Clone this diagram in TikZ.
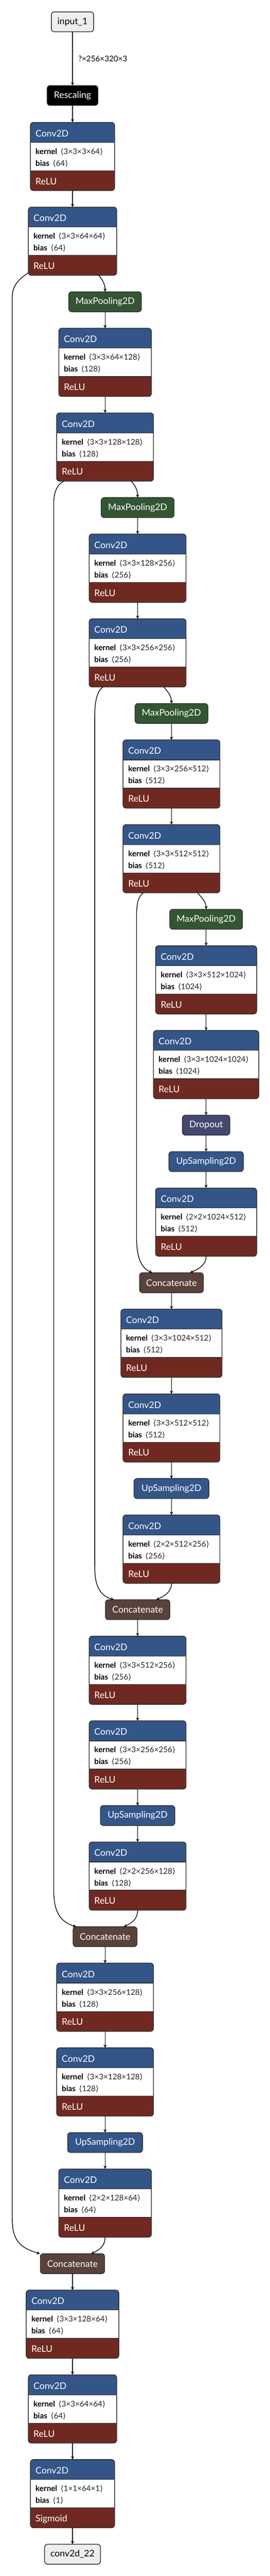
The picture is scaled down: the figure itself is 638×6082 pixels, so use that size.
\documentclass[tikz,border=0pt]{standalone}
\usepackage{fontspec}
\setmainfont{Lato}
\newfontfamily\brkfont{DejaVu Sans}
\usetikzlibrary{arrows.meta,calc}
\definecolor{layerc}{HTML}{335588}
\definecolor{actc}{HTML}{702921}
\definecolor{poolc}{HTML}{335533}
\definecolor{dropc}{HTML}{454770}
\definecolor{tensorc}{HTML}{59423B}
\definecolor{bordc}{HTML}{333333}
\definecolor{iofill}{HTML}{EEEEEE}
\definecolor{valc}{HTML}{222222}
\newcommand\hdrfont{\fontsize{21.5}{25}\selectfont}
\newcommand\attrfont{\fontsize{18.5}{22}\selectfont}
\newcommand\lbr{{\brkfont ⟨}}
\newcommand\rbr{{\brkfont ⟩}}
\tikzset{
  frame/.style={draw=bordc, line width=1.8pt, rounded corners=7pt, inner sep=0pt, outer sep=0pt},
  sbox/.style={frame, minimum height=47pt, text=white, font=\hdrfont},
  iobox/.style={sbox, fill=iofill, text=black},
  htext/.style={inner sep=0pt, text=white, font=\hdrfont},
  atext/.style={inner sep=0pt, text=black, font=\attrfont},
  sepline/.style={draw=bordc, line width=1.6pt},
  arr/.style={draw=black, line width=1.6pt, -{Stealth[length=8pt,width=7.5pt,inset=3pt]}},
  lbl/.style={inner sep=0pt, font=\attrfont, text=black}
}
\newcommand\convblock[7]{%
  \pgfmathsetmacro\cbL{#2-#4/2}%
  \pgfmathsetmacro\cbR{#2+#4/2}%
  \begin{scope}
    \clip[rounded corners=7pt] (\cbL,#3) rectangle (\cbR,#3+161);
    \fill[layerc] (\cbL,#3) rectangle (\cbR,#3+47);
    \fill[white] (\cbL,#3+47) rectangle (\cbR,#3+114);
    \fill[actc] (\cbL,#3+114) rectangle (\cbR,#3+161);
  \end{scope}
  \draw[sepline] (\cbL,#3+47) -- (\cbR,#3+47);
  \draw[sepline] (\cbL,#3+114) -- (\cbR,#3+114);
  \node[frame, minimum width=#4, minimum height=161, anchor=north] (#1) at (#2,#3) {};
  \node[htext, anchor=base west] (#1-h) at (\cbL+12,#3+33.5) {Conv2D};
  \node[atext, anchor=base west] (#1-k) at (\cbL+12,#3+75) {\textbf{kernel}\hspace{8pt}{\color{valc}\lbr#5\rbr}};
  \node[atext, anchor=base west] (#1-b) at (\cbL+12,#3+103) {\textbf{bias}\hspace{8pt}{\color{valc}\lbr#6\rbr}};
  \node[htext, anchor=base west] (#1-a) at (\cbL+12,#3+146.5) {#7};
}
\begin{document}
\begin{tikzpicture}[x=1pt,y=-1pt]
\useasboundingbox (0,0) rectangle (638,6082);
\fill[white] (0,0) rectangle (638,6082);

% ---- nodes ----
\node[iobox, minimum width=100, anchor=north] (in) at (171.5,28) {input\_1};
\node[sbox, fill=black, minimum width=120, anchor=north] (resc) at (171.5,202) {Rescaling};

\convblock{C1}{171.5}{289}{199}{3×3×3×64}{64}{ReLU}
\convblock{C2}{171.5}{489}{209}{3×3×64×64}{64}{ReLU}
\node[sbox, fill=poolc, minimum width=172, anchor=north] (MP1) at (248.5,689) {MaxPooling2D};
\convblock{C3}{248.5}{775}{219}{3×3×64×128}{128}{ReLU}
\convblock{C4}{248.5}{975}{229}{3×3×128×128}{128}{ReLU}
\node[sbox, fill=poolc, minimum width=172, anchor=north] (MP2) at (325.5,1175) {MaxPooling2D};
\convblock{C5}{325.5}{1261}{229}{3×3×128×256}{256}{ReLU}
\convblock{C6}{325.5}{1461}{229}{3×3×256×256}{256}{ReLU}
\node[sbox, fill=poolc, minimum width=172, anchor=north] (MP3) at (405.5,1661) {MaxPooling2D};
\convblock{C7}{405.5}{1747}{229}{3×3×256×512}{512}{ReLU}
\convblock{C8}{405.5}{1947}{229}{3×3×512×512}{512}{ReLU}
\node[sbox, fill=poolc, minimum width=172, anchor=north] (MP4) at (487.5,2147) {MaxPooling2D};
\convblock{C9}{487.5}{2233}{239}{3×3×512×1024}{1024}{ReLU}
\convblock{C10}{487.5}{2433}{249}{3×3×1024×1024}{1024}{ReLU}
\node[sbox, fill=dropc, minimum width=112, anchor=north] (DR) at (487.5,2633) {Dropout};
\node[sbox, fill=layerc, minimum width=176, anchor=north] (UP1) at (487.5,2719) {UpSampling2D};
\convblock{C11}{487.5}{2805}{239}{2×2×1024×512}{512}{ReLU}
\node[sbox, fill=tensorc, minimum width=151, anchor=north] (CC1) at (405.5,3005) {Concatenate};
\convblock{C12}{405.5}{3091}{239}{3×3×1024×512}{512}{ReLU}
\convblock{C13}{405.5}{3291}{229}{3×3×512×512}{512}{ReLU}
\node[sbox, fill=layerc, minimum width=177, anchor=north] (UP2) at (405.5,3491) {UpSampling2D};
\convblock{C14}{405.5}{3577}{229}{2×2×512×256}{256}{ReLU}
\node[sbox, fill=tensorc, minimum width=152, anchor=north] (CC2) at (325.5,3777) {Concatenate};
\convblock{C15}{325.5}{3863}{229}{3×3×512×256}{256}{ReLU}
\convblock{C16}{325.5}{4063}{229}{3×3×256×256}{256}{ReLU}
\node[sbox, fill=layerc, minimum width=176, anchor=north] (UP3) at (325.5,4263) {UpSampling2D};
\convblock{C17}{325.5}{4349}{229}{2×2×256×128}{128}{ReLU}
\node[sbox, fill=tensorc, minimum width=151, anchor=north] (CC3) at (248.5,4549) {Concatenate};
\convblock{C18}{248.5}{4635}{229}{3×3×256×128}{128}{ReLU}
\convblock{C19}{248.5}{4835}{229}{3×3×128×128}{128}{ReLU}
\node[sbox, fill=layerc, minimum width=177, anchor=north] (UP4) at (248.5,5035) {UpSampling2D};
\convblock{C20}{248.5}{5121}{219}{2×2×128×64}{64}{ReLU}
\node[sbox, fill=tensorc, minimum width=152, anchor=north] (CC4) at (171.5,5321) {Concatenate};
\convblock{C21}{171.5}{5407}{219}{3×3×128×64}{64}{ReLU}
\convblock{C22}{171.5}{5607}{209}{3×3×64×64}{64}{ReLU}
\convblock{C23}{171.5}{5807}{199}{1×1×64×1}{1}{Sigmoid}
\node[iobox, minimum width=132, anchor=north] (out) at (171.5,6007) {conv2d\_22};

% ---- straight connectors ----
\draw[arr] (in.south) -- node[lbl, anchor=west, xshift=13pt] (shape) {?×256×320×3} (resc.north);
\foreach \a/\b in {resc/C1, C1/C2, MP1/C3, C3/C4, MP2/C5, C5/C6, MP3/C7, C7/C8,
  MP4/C9, C9/C10, C10/DR, DR/UP1, UP1/C11, CC1/C12, C12/C13, C13/UP2, UP2/C14,
  CC2/C15, C15/C16, C16/UP3, UP3/C17, CC3/C18, C18/C19, C19/UP4, UP4/C20,
  CC4/C21, C21/C22, C22/C23, C23/out}
  \draw[arr] (\a.south) -- (\b.north);

% ---- encoder branches to pooling ----
\foreach \a/\b in {C2/MP1, C4/MP2, C6/MP3, C8/MP4}
  \draw[arr] ($(\a.south)+(62,0)$) .. controls +(10,12) and +(0,-18) .. (\b.north);

% ---- decoder inputs into concatenate ----
\foreach \a/\b in {C11/CC1, C14/CC2, C17/CC3, C20/CC4}
  \draw[arr] (\a.south) .. controls +(0,22) and +(18,-8) .. ($(\b.north)+(44,0)$);

% ---- skip connections ----
\draw[arr] ($(C2.south west)+(0,-6)$) .. controls +(-19,13) and +(0,-28) .. (29,700)
  -- (29,5240) .. controls +(0,52) and +(-44,-13) .. ($(CC4.north)+(-77,0)$);
\draw[arr] ($(C4.south west)+(17,0)$) .. controls +(-16,8) and +(0,-28) .. (127,1190)
  -- (127,4462) .. controls +(0,56) and +(-35,-11) .. ($(CC3.north)+(-68.5,0)$);
\draw[arr] ($(C6.south west)+(33,0)$) .. controls +(-15,8) and +(0,-30) .. (224,1690)
  -- (224,3698) .. controls +(0,52) and +(-30,-9) .. ($(CC2.north)+(-56,0)$);
\draw[arr] ($(C8.south west)+(48,0)$) .. controls +(-12,8) and +(0,-26) .. (323,2160)
  -- (323,2922) .. controls +(0,55) and +(-22,-10) .. ($(CC1.north)+(-45.5,0)$);
\end{tikzpicture}
\end{document}
